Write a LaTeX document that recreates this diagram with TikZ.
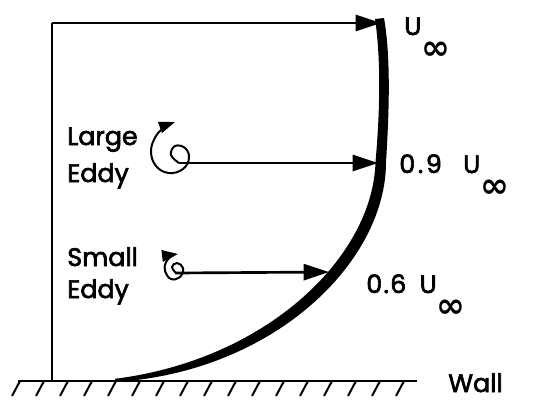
\documentclass[tikz,border=0pt]{standalone}
\usepackage{fontspec}
\setmainfont{Poppins}[FakeBold=2.5]
\newfontfamily\symfont{DejaVu Sans}
\usetikzlibrary{arrows.meta}

\newcommand{\uinf}{U\kern0pt\raisebox{-18pt}{\fontsize{26}{26}\symfont\bfseries ∞}}

\begin{document}
\begin{tikzpicture}[x=0.75pt, y=-0.75pt, line width=2pt,
    >={Triangle[length=19pt, width=12pt]},
    lbl/.style={font=\fontsize{19}{21}\selectfont, inner sep=0pt, anchor=base west},
    eddy/.style={line width=1.5pt, -{Triangle[length=12pt, width=8.5pt]}}]

    \useasboundingbox (0,0) rectangle (534,401);

    % wall and hatching
    \coordinate (W1) at (18,381);
    \coordinate (W2) at (417,381);
    \draw (W1) -- (W2);
    \foreach \x in {20,44,...,404}
        \draw[line width=1.5pt] (\x,381) -- ++(-8,15);

    % edge of the boundary layer
    \coordinate (F1) at (52,381);
    \coordinate (F2) at (52,23);
    \draw (F1) -- (F2);

    % velocity profile
    \fill (115,382) .. controls (274,372) and (386,262) .. (386,162)
        .. controls (390,100) and (390,52) .. (384,18)
        -- (375,19) .. controls (380,52) and (381,100) .. (375.5,162)
        .. controls (373,256) and (268,359.5) .. (115,378.8) -- cycle;

    \coordinate (P0) at (381,23);
    \coordinate (P9) at (378,163);
    \coordinate (P6) at (329,272);

    % eddies
    \coordinate (L0) at (179,163);
    \coordinate (S0) at (175,273);
    \draw[eddy] plot[smooth, tension=0.7] coordinates {(179,163) (171,155) (175,146) (185,148) (189,158) (183,169) (169,173) (156,166) (151,151) (156,136) (165,127) (175,122)};
    \draw[eddy] plot[smooth, tension=0.7] coordinates {(176,273) (172,267) (177,263) (183,268) (180,277) (171,279) (165,271) (166,262) (172,256) (178,254)};

    \path[->]
        (F2) edge (P0)
        (L0) edge (P9)
        (S0) edge (P6);

    % labels
    \node[lbl] (uinf) at (403,35) {\uinf};
    \node[lbl] (u09) at (398,173) {0\kern2pt.\kern2pt9\hspace{16pt}\uinf};
    \node[lbl] (u06) at (365,293) {0\kern1pt.\kern1pt6\hspace{10pt}\uinf};
    \node[lbl] (large) at (66,145) {Large};
    \node[lbl] (leddy) at (66,182) {Eddy};
    \node[lbl] (small) at (66,266) {Small};
    \node[lbl] (seddy) at (66,298) {Eddy};
    \node[lbl] (wall) at (447,392) {Wall};
\end{tikzpicture}
\end{document}
